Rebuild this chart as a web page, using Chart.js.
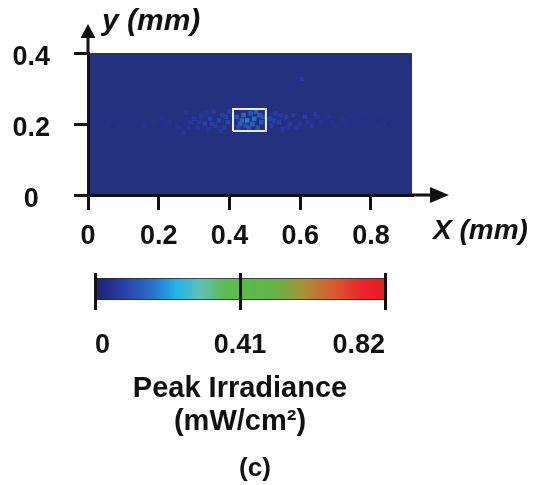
<!DOCTYPE html>
<html>
<head>
<meta charset="utf-8">
<script src="https://cdn.jsdelivr.net/npm/chart.js@4.4.1/dist/chart.umd.min.js"></script>
<style>
  html, body { margin: 0; padding: 0; background: #fff; }
  #wrap { position: relative; width: 535px; height: 485px; }
  canvas { position: absolute; left: 0; }
  #map { top: 0; }
  #bar { top: 260px; }
</style>
</head>
<body>
<div id="wrap">
  <canvas id="map" width="535" height="260"></canvas>
  <canvas id="bar" width="535" height="225"></canvas>
</div>
<script>
// map extent (mm) and tick labels
const xMax = 0.916;
const yMax = 0.4;
const xTickLabels = ['0', '0.2', '0.4', '0.6', '0.8'];
const yTickLabels = ['0', '0.2', '0.4'];

// speckles: x (mm), y (mm), peak irradiance (mW/cm2)
const spotX = [0.04, 0.07, 0.09, 0.12, 0.14, 0.16, 0.18, 0.20, 0.21, 0.23, 0.25, 0.257, 0.27, 0.277, 0.29, 0.30,
    0.31, 0.32, 0.33, 0.34, 0.345, 0.355, 0.36, 0.37, 0.38, 0.385, 0.395, 0.40, 0.42, 0.43, 0.44, 0.445,
    0.45, 0.46, 0.465, 0.47, 0.48, 0.485, 0.49, 0.425, 0.515, 0.52, 0.53, 0.54, 0.55, 0.56, 0.57, 0.58,
    0.59, 0.613, 0.633, 0.642, 0.62, 0.66, 0.68, 0.70, 0.72, 0.74, 0.76, 0.78, 0.80, 0.82, 0.85, 0.605,
    0.22, 0.285, 0.315, 0.335, 0.35, 0.375, 0.39, 0.435, 0.455, 0.475, 0.495, 0.525, 0.545, 0.565, 0.60, 0.65,
    0.69, 0.73];
const spotY = [0.205, 0.19, 0.215, 0.20, 0.225, 0.195, 0.21, 0.185, 0.215, 0.205, 0.195, 0.189, 0.175, 0.231, 0.205, 0.215,
    0.19, 0.225, 0.20, 0.185, 0.215, 0.235, 0.195, 0.21, 0.225, 0.19, 0.205, 0.235, 0.22, 0.20, 0.225, 0.195,
    0.21, 0.23, 0.20, 0.215, 0.19, 0.225, 0.205, 0.19, 0.215, 0.195, 0.23, 0.205, 0.185, 0.22, 0.20, 0.225,
    0.19, 0.22, 0.194, 0.228, 0.205, 0.205, 0.22, 0.195, 0.21, 0.225, 0.20, 0.215, 0.19, 0.21, 0.20, 0.327,
    0.195, 0.19, 0.205, 0.23, 0.20, 0.18, 0.22, 0.21, 0.19, 0.235, 0.22, 0.21, 0.225, 0.19, 0.20, 0.22,
    0.205, 0.195];
const spotVal = [0.04, 0.035, 0.04, 0.045, 0.04, 0.05, 0.05, 0.04, 0.055, 0.055, 0.05, 0.06, 0.07, 0.065, 0.07, 0.08,
    0.065, 0.07, 0.085, 0.07, 0.09, 0.075, 0.08, 0.095, 0.085, 0.08, 0.1, 0.09, 0.13, 0.15, 0.17, 0.12,
    0.2, 0.14, 0.16, 0.18, 0.13, 0.15, 0.14, 0.11, 0.09, 0.08, 0.08, 0.09, 0.07, 0.08, 0.075, 0.07,
    0.07, 0.085, 0.08, 0.075, 0.065, 0.055, 0.05, 0.05, 0.05, 0.045, 0.045, 0.04, 0.04, 0.035, 0.03, 0.08,
    0.045, 0.06, 0.07, 0.065, 0.08, 0.07, 0.09, 0.16, 0.14, 0.15, 0.12, 0.085, 0.075, 0.07, 0.07, 0.06,
    0.05, 0.045];

// white box around the focus
const boxX = [0.41, 0.503, 0.503, 0.41, 0.41];
const boxY = [0.18, 0.18, 0.242, 0.242, 0.18];

// colour bar
const cbMin = 0;
const cbMax = 0.82;
const cbTicks = [0, 0.41, 0.82];
const cbTickLabels = ['0', '0.41', '0.82'];
const cmapPos = [0, 0.1, 0.2, 0.28, 0.36, 0.45, 0.62, 0.72, 0.82, 0.92, 1];
const cmapColors = ['#1a2070', '#2a40a8', '#2a70cc', '#20b4ea', '#60c0b8', '#5cbc50', '#62b444', '#a8903a', '#dc5a30', '#e8262a', '#e61c24'];

const FONT = 'Liberation Sans, Arial, sans-serif';
const INK = '#111';
Chart.defaults.font.family = FONT;
Chart.defaults.color = INK;

function hexToRgb(h) {
    return [parseInt(h.slice(1, 3), 16), parseInt(h.slice(3, 5), 16), parseInt(h.slice(5, 7), 16)];
}

function colorAt(v, alpha) {
    const f = Math.min(1, Math.max(0, (v - cbMin) / (cbMax - cbMin)));
    let i = 0;
    while (i < cmapPos.length - 2 && f > cmapPos[i + 1]) i++;
    const t = (f - cmapPos[i]) / (cmapPos[i + 1] - cmapPos[i]);
    const a = hexToRgb(cmapColors[i]);
    const b = hexToRgb(cmapColors[i + 1]);
    const c = a.map((ai, k) => Math.round(ai + (b[k] - ai) * t));
    return `rgba(${c[0]}, ${c[1]}, ${c[2]}, ${alpha})`;
}

// plot background (the near-zero field) and the arrowed axes
const mapDecor = {
    id: 'mapDecor',
    beforeDraw(chart) {
        const {ctx, chartArea: a} = chart;
        ctx.save();
        ctx.fillStyle = '#243080';
        ctx.fillRect(a.left, a.top, a.right - a.left, a.bottom - a.top);
        ctx.restore();
    },
    afterDraw(chart) {
        const {ctx, chartArea: a} = chart;
        const x0 = chart.scales.x.getPixelForValue(0);
        const y0 = chart.scales.y.getPixelForValue(0);
        ctx.save();
        ctx.strokeStyle = INK;
        ctx.fillStyle = INK;
        ctx.lineWidth = 3;
        ctx.beginPath();
        ctx.moveTo(x0, a.top);
        ctx.lineTo(x0, 36);
        ctx.moveTo(a.right, y0);
        ctx.lineTo(431, y0);
        ctx.stroke();
        ctx.beginPath();
        ctx.moveTo(x0, 24);
        ctx.lineTo(x0 - 7.5, 38);
        ctx.lineTo(x0 + 7.5, 38);
        ctx.closePath();
        ctx.moveTo(449, y0);
        ctx.lineTo(430, y0 - 8);
        ctx.lineTo(430, y0 + 8);
        ctx.closePath();
        ctx.fill();

        ctx.textBaseline = 'middle';
        ctx.textAlign = 'left';
        ctx.font = `italic bold 30px ${FONT}`;
        ctx.fillText('y (mm)', 102, 22);
        ctx.font = `italic bold 28px ${FONT}`;
        ctx.fillText('X (mm)', 433, 231);
        ctx.restore();
    }
};

new Chart(document.getElementById('map'), {
    type: 'scatter',
    data: {
        datasets: [
            {
                type: 'line',
                data: boxX.map((x, i) => ({x: x, y: boxY[i]})),
                borderColor: '#e8eef8',
                borderWidth: 2,
                pointRadius: 0,
                fill: false,
                order: 0
            },
            {
                data: spotX.map((x, i) => ({x: x, y: spotY[i], v: spotVal[i]})),
                pointStyle: 'rect',
                pointRadius: 3.2,
                borderWidth: 0,
                backgroundColor: c => colorAt(c.raw ? c.raw.v : 0, 0.8),
                order: 1
            }
        ]
    },
    options: {
        responsive: false,
        animation: false,
        layout: {padding: {left: 0, top: 53, right: 123, bottom: 5}},
        plugins: {legend: {display: false}, tooltip: {enabled: false}},
        scales: {
            x: {
                type: 'linear',
                min: 0,
                max: xMax,
                afterFit: s => { s.height = 60; },
                ticks: {
                    stepSize: 0.2,
                    includeBounds: false,
                    padding: 10,
                    font: {size: 27, weight: 'bold'},
                    callback: (v, i) => xTickLabels[i]
                },
                grid: {drawOnChartArea: false, tickLength: 15, color: INK, lineWidth: 3},
                border: {display: true, color: INK, width: 3}
            },
            y: {
                type: 'linear',
                min: 0,
                max: yMax,
                afterFit: s => { s.width = 88; },
                ticks: {
                    stepSize: 0.2,
                    padding: 24,
                    labelOffset: 5,
                    crossAlign: 'center',
                    font: {size: 27, weight: 'bold'},
                    callback: (v, i) => yTickLabels[i]
                },
                grid: {drawOnChartArea: false, tickLength: 14, color: INK, lineWidth: 3},
                border: {display: true, color: INK, width: 3}
            }
        }
    },
    plugins: [mapDecor]
});

// tick lines poking above the colour bar, and the panel letter
const barDecor = {
    id: 'barDecor',
    afterDraw(chart) {
        const {ctx, chartArea: a} = chart;
        const sx = chart.scales.x;
        ctx.save();
        ctx.strokeStyle = INK;
        ctx.lineWidth = 3;
        ctx.beginPath();
        cbTicks.forEach(v => {
            const px = Math.round(sx.getPixelForValue(v)) + 0.5;
            ctx.moveTo(px, a.top - 5);
            ctx.lineTo(px, a.top);
        });
        ctx.stroke();
        ctx.fillStyle = INK;
        ctx.textAlign = 'center';
        ctx.textBaseline = 'middle';
        ctx.font = `bold 26px ${FONT}`;
        ctx.fillText('(c)', 255, 209);
        ctx.restore();
    }
};

new Chart(document.getElementById('bar'), {
    type: 'bar',
    data: {
        labels: ['irradiance'],
        datasets: [{
            data: [[cbMin, cbMax]],
            backgroundColor: c => {
                const a = c.chart.chartArea;
                if (!a) return cmapColors[0];
                const g = c.chart.ctx.createLinearGradient(a.left, 0, a.right, 0);
                cmapPos.forEach((p, i) => g.addColorStop(p, cmapColors[i]));
                return g;
            },
            borderColor: '#1e2a30',
            borderWidth: 1,
            borderSkipped: false,
            barPercentage: 1,
            categoryPercentage: 1
        }]
    },
    options: {
        indexAxis: 'y',
        responsive: false,
        animation: false,
        layout: {padding: {left: 95, right: 150, top: 18, bottom: 47}},
        plugins: {legend: {display: false}, tooltip: {enabled: false}},
        scales: {
            x: {
                type: 'linear',
                min: cbMin,
                max: cbMax,
                afterFit: s => { s.height = 138; },
                afterBuildTicks: s => { s.ticks = cbTicks.map(v => ({value: v})); },
                ticks: {
                    align: 'inner',
                    padding: 19,
                    font: {size: 27, weight: 'bold'},
                    callback: (v, i) => cbTickLabels[i]
                },
                grid: {drawOnChartArea: true, tickLength: 10, color: INK, lineWidth: 3, z: 1},
                border: {display: false},
                title: {
                    display: true,
                    text: ['Peak Irradiance', '(mW/cm²)'],
                    color: INK,
                    font: {size: 29, weight: 'bold', lineHeight: 1.12},
                    padding: 0
                }
            },
            y: {display: false}
        }
    },
    plugins: [barDecor]
});
</script>
</body>
</html>
